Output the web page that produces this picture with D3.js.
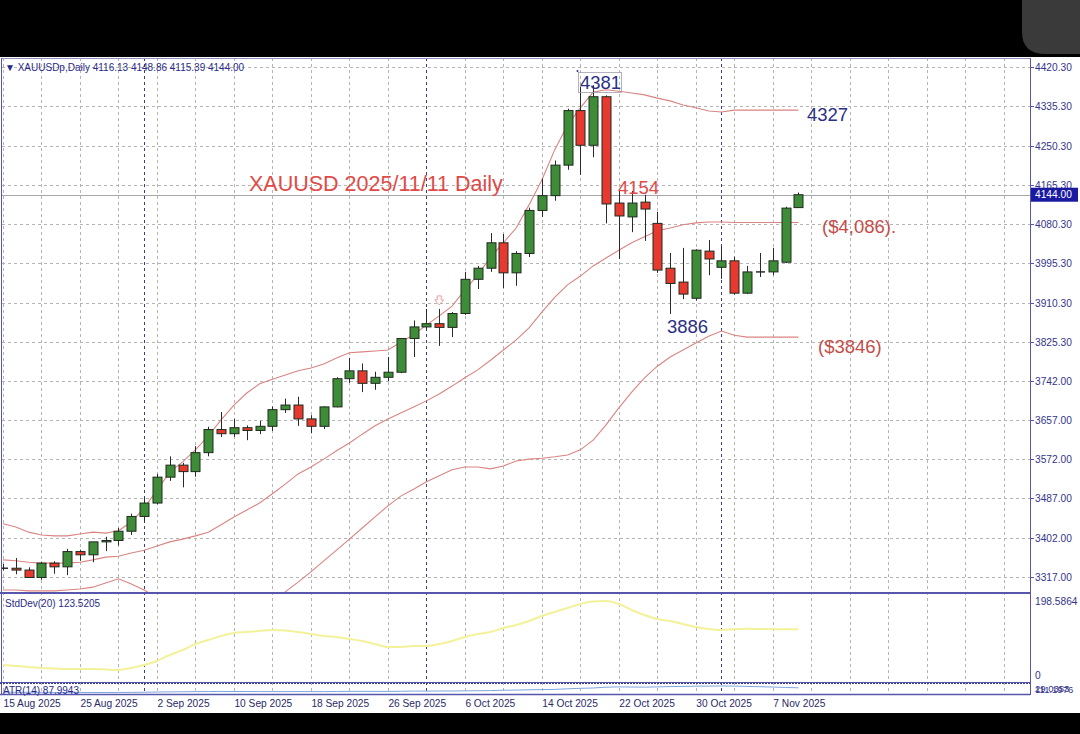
<!DOCTYPE html>
<html><head><meta charset="utf-8">
<script src="https://cdn.jsdelivr.net/npm/d3@7"></script>
<style>html,body{margin:0;padding:0;background:#000;overflow:hidden}svg{display:block}</style>
</head><body>
<svg id="c" width="1080" height="734"></svg>
<script>
// ---------- data ----------
const dates = ["2025-08-15","2025-08-18","2025-08-19","2025-08-20","2025-08-21","2025-08-22","2025-08-25","2025-08-26","2025-08-27","2025-08-28","2025-08-29",
"2025-09-01","2025-09-02","2025-09-03","2025-09-04","2025-09-05","2025-09-08","2025-09-09","2025-09-10","2025-09-11","2025-09-12","2025-09-15","2025-09-16","2025-09-17","2025-09-18","2025-09-19","2025-09-22","2025-09-23","2025-09-24","2025-09-25","2025-09-26","2025-09-29","2025-09-30",
"2025-10-01","2025-10-02","2025-10-03","2025-10-06","2025-10-07","2025-10-08","2025-10-09","2025-10-10","2025-10-13","2025-10-14","2025-10-15","2025-10-16","2025-10-17","2025-10-20","2025-10-21","2025-10-22","2025-10-23","2025-10-24","2025-10-27","2025-10-28","2025-10-29","2025-10-30","2025-10-31",
"2025-11-03","2025-11-04","2025-11-05","2025-11-06","2025-11-07","2025-11-10","2025-11-11"];
const open  = [3336,3336,3332,3316,3347,3339,3372,3365,3393,3396,3416,3448,3477,3533,3559,3545,3586,3636,3627,3640,3634,3643,3679,3689,3659,3643,3685,3746,3763,3736,3749,3760,3833,3858,3865,3857,3887,3961,3985,4040,3975,4017,4110,4142,4208,4326,4251,4356,4126,4096,4128,4082,3985,3955,3920,4022,3987,4001,3931,3975,3977,3998,4116.13];
const high  = [3345,3358,3338,3350,3351,3378,3376,3393,3404,3423,3454,3489,3540,3578,3564,3600,3642,3674,3659,3645,3655,3686,3703,3707,3667,3686,3749,3791,3779,3761,3793,3834,3872,3897,3897,3890,3977,3990,4061,4059,4022,4116,4179,4218,4330,4378,4381,4359,4155,4152,4144,4107,4018,4029,4026,4046,4031,4010,3990,4018,4029,4118,4148.86];
const low   = [3331,3323,3315,3311,3324,3321,3352,3349,3373,3385,3408,3436,3474,3525,3511,3534,3578,3620,3620,3613,3626,3633,3672,3644,3628,3637,3684,3737,3717,3722,3741,3758,3793,3851,3817,3836,3884,3940,3977,3942,3947,4009,4096,4131,4198,4187,4225,4082,4005,4063,4044,3975,3886,3918,3915,3970,3962,3928,3929,3966,3970,3996,4115.39];
const close = [3336,3332,3316,3347,3339,3372,3365,3393,3396,3416,3448,3477,3533,3559,3545,3586,3636,3627,3640,3634,3643,3679,3689,3659,3643,3685,3746,3763,3736,3749,3760,3833,3858,3865,3857,3887,3961,3985,4040,3975,4017,4110,4142,4208,4326,4251,4356,4124,4098,4126,4113,3981,3952,3929,4024,4005,4001,3931,3977,3977,4001,4115,4144.00];
const bbUpper  = [3432,3425,3414,3408,3406,3406,3410,3414,3412,3417,3436,3466,3505,3544,3566,3592,3622,3657,3689,3715,3735,3745,3754,3763,3769,3778,3791,3802,3804,3806,3808,3825,3841,3862,3882,3903,3938,3970,4009,4040,4072,4122,4176,4241,4295,4332,4366,4371,4368,4364,4360,4353,4347,4338,4332,4325,4323,4327,4327,4327,4327,4327,4327];
const bbMiddle = [3354,3352,3349,3347,3347,3347,3349,3354,3360,3362,3369,3375,3384,3393,3399,3406,3414,3430,3447,3462,3477,3497,3518,3540,3555,3572,3590,3607,3626,3644,3659,3672,3685,3698,3713,3730,3748,3765,3786,3808,3830,3856,3890,3922,3949,3968,3990,4007,4024,4040,4053,4066,4072,4079,4083,4085,4085,4084,4084,4084,4084,4084,4084];
const bbLower  = [3289,3289,3287,3287,3287,3289,3291,3295,3304,3313,3302,3289,3272,3254,3241,3228,3215,3207,3202,3207,3224,3252,3285,3306,3328,3352,3375,3399,3423,3447,3471,3492,3507,3523,3536,3549,3555,3555,3551,3557,3568,3572,3574,3577,3581,3592,3613,3646,3683,3717,3748,3773,3793,3808,3823,3838,3849,3840,3836,3836,3836,3836,3836];
const stdDev = [29.1,26.5,23.8,21.2,19.9,18.5,18.5,18.5,17.2,15.9,21.2,29.1,39.7,55.6,68.8,84.7,95.3,105.9,113.9,116.5,119.2,121.8,120.5,116.5,111.2,105.9,103.3,98.0,92.7,84.7,76.8,76.8,79.4,79.4,84.7,92.7,103.3,111.2,116.5,127.1,135.0,145.6,158.9,169.5,180.1,190.7,197.0,198.5864,190.7,174.8,161.5,150.9,145.6,137.7,129.8,124.5,121.8,124.0,125.0,124.5,124.0,123.8,123.5205];
const atr = [33,32,31.5,31,30,30,29.5,29.3,29.0353,29.5,30.5,32,35,37,38.5,40,41,42.5,42,41.5,40.5,40.5,40,41,40.5,40,42,43,44,43,43,45,47,47,48,48,50,51,53,58,60,63,66,68,76,82,86,96,100,98,97,100,104,106,109,110,111.1976,110,106,102,98,93,87.9943];
const priceTicks = ["4420.30","4335.30","4250.30","4165.30","4080.30","3995.30","3910.30","3825.30","3742.00","3657.00","3572.00","3487.00","3402.00","3317.00"];
const stdTicks = ["198.5864","0"];
const atrTicks = ["29.0353","111.1976"];
const monthStarts = ["2025-09-01","2025-10-01","2025-11-03"];

// ---------- layout ----------
const W = 1080, H = 734;
const L = 2, R = 1030;
const mainTop = 58, mainBot = 592;
const stdTop = 594, stdBot = 682;
const atrTop = 684, atrBot = 694;
const frame = "#5656ac", axisText = "#34348a", gridC = "#b4b4b4";
const FONT = "'Liberation Sans', Arial, sans-serif";

const svg = d3.select("#c");
svg.append("rect").attr("width", W).attr("height", H).attr("fill", "#000");
// phone corner
svg.append("path").attr("d", "M1022,0 L1080,0 L1080,54 L1046,54 Q1022,54 1022,32 Z").attr("fill", "#3a3a3a");
svg.append("rect").attr("x", 0).attr("y", 57).attr("width", W).attr("height", 656).attr("fill", "#fff");

const parse = d3.timeParse("%Y-%m-%d");
const fmt = d3.timeFormat("%-d %b %Y");
const x = d3.scaleLinear().domain([0, 80]).range([3, 3 + 80 * 12.83]);
const y = d3.scaleLinear().domain([3317, 4420.3]).range([577, 67]);
const ys = d3.scaleLinear().domain([0, 198.5864]).range([676, 601]);
const ya = d3.scaleLinear().domain([29.0353, 111.1976]).range([692.5, 686]);

// clip paths
const defs = svg.append("defs");
defs.append("clipPath").attr("id", "cm").append("rect").attr("x", L).attr("y", mainTop).attr("width", R - L).attr("height", mainBot - mainTop);
defs.append("clipPath").attr("id", "cs").append("rect").attr("x", L).attr("y", stdTop).attr("width", R - L).attr("height", stdBot - stdTop);
defs.append("clipPath").attr("id", "ca").append("rect").attr("x", L).attr("y", atrTop).attr("width", R - L).attr("height", atrBot - atrTop);

// horizontal grid (main)
const gy = svg.append("g");
priceTicks.forEach(t => {
  const yy = Math.round(y(+t)) + 0.5;
  gy.append("line").attr("x1", L).attr("x2", R).attr("y1", yy).attr("y2", yy)
    .attr("stroke", gridC).attr("stroke-dasharray", "3,3");
});
// vertical grid every 3 bars
const gx = svg.append("g");
d3.range(0, 81, 3).forEach(i => {
  const xx = Math.round(x(i)) + 0.5;
  if (xx > R) return;
  gx.append("line").attr("x1", xx).attr("x2", xx).attr("y1", mainTop).attr("y2", atrBot)
    .attr("stroke", gridC).attr("stroke-dasharray", "3,3");
});
// month separators
monthStarts.forEach(d => {
  const i = dates.indexOf(d);
  const xx = Math.round(x(i)) + 0.5;
  svg.append("line").attr("x1", xx).attr("x2", xx).attr("y1", mainTop).attr("y2", atrBot)
    .attr("stroke", "#3a3a8a").attr("stroke-dasharray", "3,3");
});

// bid line
svg.append("line").attr("x1", L).attr("x2", R).attr("y1", Math.round(y(close[62])) + 0.5).attr("y2", Math.round(y(close[62])) + 0.5)
  .attr("stroke", "#a8a8a8").attr("stroke-width", 1);

// Bollinger bands
const gm = svg.append("g").attr("clip-path", "url(#cm)");
const lineGen = arr => d3.line().x((d, i) => x(i)).y(d => y(d)).curve(d3.curveLinear)(arr);
[bbUpper, bbMiddle, bbLower].forEach(arr => {
  gm.append("path").attr("d", lineGen(arr)).attr("fill", "none").attr("stroke", "#d98482").attr("stroke-width", 1.1);
});

// candles
const cg = gm.append("g");
dates.forEach((d, i) => {
  const cx = Math.round(x(i)) + 0.5;
  cg.append("line").attr("x1", cx).attr("x2", cx).attr("y1", y(high[i])).attr("y2", y(low[i]))
    .attr("stroke", "#2a2a2a").attr("stroke-width", 1);
  const up = close[i] >= open[i];
  const top = y(Math.max(open[i], close[i])), bot = y(Math.min(open[i], close[i]));
  const h = Math.max(bot - top, 1);
  if (h <= 1.2) {
    cg.append("line").attr("x1", cx - 4.5).attr("x2", cx + 4.5).attr("y1", top).attr("y2", top).attr("stroke", "#1e1e1e").attr("stroke-width", 1.4);
  } else {
    cg.append("rect").attr("x", cx - 4.5).attr("y", top).attr("width", 9).attr("height", h)
      .attr("fill", up ? "#3e8c37" : "#e8392f").attr("stroke", "#1e2a1e").attr("stroke-width", 1);
  }
});

// small arrow marker above Oct 2 candle
(function(){
  const i = dates.indexOf("2025-10-02");
  const cx = x(i), ty = y(high[i]) - 13;
  gm.append("path").attr("d", `M${cx-2},${ty} L${cx+2},${ty} L${cx+2},${ty+4} L${cx+4.5},${ty+4} L${cx},${ty+9} L${cx-4.5},${ty+4} L${cx-2},${ty+4} Z`)
    .attr("fill", "#fff").attr("stroke", "#e6a0a0").attr("stroke-width", 1);
})();

// StdDev panel
svg.append("g").attr("clip-path", "url(#cs)").append("path")
  .attr("d", d3.line().x((d, i) => x(i)).y(d => ys(d)).curve(d3.curveMonotoneX)(stdDev))
  .attr("fill", "none").attr("stroke", "#f3f29a").attr("stroke-width", 2);
// ATR panel
svg.append("g").attr("clip-path", "url(#ca)").append("path")
  .attr("d", d3.line().x((d, i) => x(i)).y(d => ya(d)).curve(d3.curveMonotoneX)(atr))
  .attr("fill", "none").attr("stroke", "#7ea6df").attr("stroke-width", 1);

// frames
const fr = svg.append("g").attr("stroke", frame).attr("fill", "none");
fr.append("line").attr("x1", L - 0.5).attr("x2", L - 0.5).attr("y1", mainTop).attr("y2", atrBot + 1);
fr.append("line").attr("x1", R + 0.5).attr("x2", R + 0.5).attr("y1", mainTop).attr("y2", atrBot + 1);
fr.append("line").attr("x1", L).attr("x2", R).attr("y1", mainTop + 0.5).attr("y2", mainTop + 0.5).attr("stroke", "#9090c0");
fr.append("line").attr("x1", 0).attr("x2", R).attr("y1", mainBot + 1).attr("y2", mainBot + 1).attr("stroke-width", 2);
fr.append("line").attr("x1", 0).attr("x2", R).attr("y1", stdBot + 0.5).attr("y2", stdBot + 0.5).attr("stroke-width", 1);
fr.append("line").attr("x1", 0).attr("x2", R).attr("y1", atrTop - 0.5).attr("y2", atrTop - 0.5).attr("stroke", "#3a3a8a").attr("stroke-dasharray", "2,1");
fr.append("line").attr("x1", 0).attr("x2", R).attr("y1", atrBot + 0.5).attr("y2", atrBot + 0.5).attr("stroke-width", 1.5);

// right axis labels
const ax = svg.append("g").attr("font-family", FONT).attr("font-size", "10.2px").attr("fill", axisText);
priceTicks.forEach(t => {
  const yy = Math.round(y(+t)) + 0.5;
  svg.append("line").attr("x1", R).attr("x2", R + 4).attr("y1", yy).attr("y2", yy).attr("stroke", frame);
  ax.append("text").attr("x", R + 5).attr("y", yy + 3.6).text(t);
});
ax.append("text").attr("x", R + 5).attr("y", ys(+stdTicks[0]) + 4).text(stdTicks[0]);
ax.append("text").attr("x", R + 5).attr("y", ys(+stdTicks[1]) + 3).text(stdTicks[1]);
// ATR scale labels overlap each other in the original (tiny panel)
ax.append("text").attr("x", R + 5).attr("y", 692).attr("font-size", "9.5px").text(atrTicks[0]);
ax.append("text").attr("x", R + 5).attr("y", 693).attr("font-size", "9.5px").text(atrTicks[1]);

// last price tag
(function(){
  const yy = y(close[62]);
  svg.append("rect").attr("x", R + 1).attr("y", yy - 7).attr("width", 47).attr("height", 14).attr("fill", "#1a1aa0");
  svg.append("text").attr("x", R + 5).attr("y", yy + 3.7).attr("font-family", FONT).attr("font-size", "10.2px").attr("fill", "#fff").text(close[62].toFixed(2));
})();

// date labels
const dl = svg.append("g").attr("font-family", FONT).attr("font-size", "10.2px").attr("fill", "#2a2a66");
d3.range(0, dates.length, 6).forEach(i => {
  dl.append("text").attr("x", x(i) + 0.5).attr("y", 707).text(fmt(parse(dates[i])));
});

// header + panel labels
svg.append("text").attr("x", 5).attr("y", 71).attr("font-family", FONT).attr("font-size", "10px").attr("fill", "#2a2a8a")
  .text("\u25BC XAUUSDp,Daily  " + [open[62], high[62], low[62], close[62]].map(v => v.toFixed(2)).join(" "));
svg.append("text").attr("x", 5).attr("y", 607).attr("font-family", FONT).attr("font-size", "10px").attr("fill", "#2a2a8a")
  .text("StdDev(20) " + stdDev[62].toFixed(4));
svg.append("text").attr("x", 3).attr("y", 694).attr("font-family", FONT).attr("font-size", "10px").attr("fill", "#2a2a8a")
  .text("ATR(14) " + atr[62].toFixed(4));

// annotations
const ann = svg.append("g").attr("font-family", FONT);
const navy = "#2b2f86", red = "#e04a47", brown = "#c44d4a";
const lowIdx = dates.indexOf("2025-10-28");
ann.append("text").attr("x", 249).attr("y", 191).attr("font-size", "21.5px").attr("fill", red).text("XAUUSD 2025/11/11 Daily");
ann.append("rect").attr("x", 578.5).attr("y", 72.5).attr("width", 43).attr("height", 20).attr("fill", "none").attr("stroke", "#a0a0b0").attr("stroke-width", 0.8);
ann.append("circle").attr("cx", 577.5).attr("cy", 71).attr("r", 1).attr("fill", navy);
ann.append("text").attr("x", 580).attr("y", 89).attr("font-size", "18.5px").attr("fill", navy).text(Math.round(d3.max(high)));
ann.append("text").attr("x", 807).attr("y", 121).attr("font-size", "18.5px").attr("fill", navy).text(bbUpper[62]);
ann.append("text").attr("x", 618).attr("y", 194).attr("font-size", "18.5px").attr("fill", red).text("4154");
ann.append("text").attr("x", 822).attr("y", 233).attr("font-size", "18.5px").attr("fill", brown).text("($4,086).");
ann.append("text").attr("x", 667).attr("y", 333).attr("font-size", "18.5px").attr("fill", navy).text(Math.round(low[lowIdx]));
ann.append("text").attr("x", 818).attr("y", 353).attr("font-size", "18.5px").attr("fill", brown).text("($3846)");
</script>
</body></html>
